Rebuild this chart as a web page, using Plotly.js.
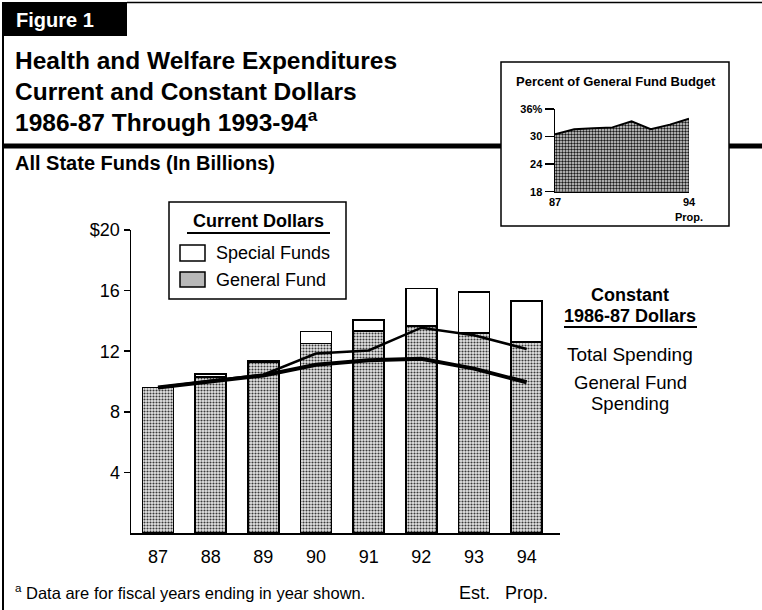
<!DOCTYPE html>
<html>
<head>
<meta charset="utf-8">
<script src="https://cdn.plot.ly/plotly-3.0.1.min.js"></script>
<style>html,body{margin:0;padding:0;background:#fff;}#chart{width:762px;height:610px;}</style>
</head>
<body>
<div id="chart"></div>
<script>
// ---- data ----
const years = ["87","88","89","90","91","92","93","94"];
const tickLabels = ["87","88","89","90","91","92","93","94"];
const subLabels = ["","","","","","","Est.","Prop."];
const generalFund = [9.6, 10.3, 11.3, 12.5, 13.35, 13.65, 13.2, 12.6];
const specialFunds = [0, 0.2, 0.1, 0.8, 0.7, 2.5, 2.7, 2.7];
const constTotal = [9.6, 10.05, 10.45, 11.85, 12.05, 13.55, 13.05, 12.15];
const constGeneral = [9.6, 10.0, 10.4, 11.1, 11.4, 11.5, 10.85, 9.95];
const insetPct = [30.5, 31.6, 31.8, 32.0, 33.3, 31.6, 32.6, 33.9];
const yTickVals = [4, 8, 12, 16, 20];
const yTickText = ["4", "8", "12", "16", "$20"];
const insetTickVals = [18, 24, 30, 36];
const insetTickText = ["18", "24", "30", "36%"];
const insetXTicks = ["87", "94"];
const insetXText = ["87", "94<br>Prop."];

// ---- helpers (pixel -> paper) ----
const W = 762, H = 610;
const px = x => x / W;
const py = y => 1 - y / H;
const FONT = "Liberation Sans, Arial, sans-serif";

const patt = {shape: ".", bgcolor: "#e6e6e6", fgcolor: "#3a3a3a", size: 3, solidity: 0.4, fillmode: "replace"};

const traces = [
  {type: "bar", x: years, y: generalFund, name: "General Fund", xaxis: "x", yaxis: "y",
   marker: {color: "#e6e6e6", pattern: patt, line: {color: "#000", width: 1.5}}, hoverinfo: "skip"},
  {type: "bar", x: years, y: specialFunds, name: "Special Funds", xaxis: "x", yaxis: "y",
   marker: {color: "#fff", line: {color: "#000", width: 1.5}}, hoverinfo: "skip"},
  {type: "scatter", mode: "lines", x: years, y: constTotal, name: "Total Spending",
   line: {color: "#000", width: 2.5}, xaxis: "x", yaxis: "y"},
  {type: "scatter", mode: "lines", x: years, y: constGeneral, name: "General Fund Spending",
   line: {color: "#000", width: 4}, xaxis: "x", yaxis: "y"},
  {type: "scatter", mode: "lines", x: years, y: insetPct, name: "Percent of General Fund Budget",
   fill: "tozeroy", fillcolor: "#bdbdbd",
   fillpattern: {shape: ".", bgcolor: "#dcdcdc", fgcolor: "#1a1a1a", size: 3, solidity: 0.5, fillmode: "replace"},
   line: {color: "#000", width: 2}, xaxis: "x2", yaxis: "y2"}
];

function ann(text, x, y, opts) {
  return Object.assign({text: text, x: px(x), y: py(y), xref: "paper", yref: "paper",
    showarrow: false, xanchor: "left", yanchor: "middle",
    font: {family: FONT, size: 18, color: "#000"}}, opts || {});
}
const bold = (size, color) => ({family: FONT, size: size, color: color || "#000", weight: "bold"});
const reg = size => ({family: FONT, size: size, color: "#000"});

const annotations = [
  ann("Figure 1", 14, 20, {font: bold(20, "#fff")}),
  ann("Health and Welfare Expenditures", 13, 61, {font: bold(24.5)}),
  ann("Current and Constant Dollars", 13, 91, {font: bold(24.5)}),
  ann("1986-87 Through 1993-94<sup>a</sup>", 13, 121, {font: bold(24.5)}),
  ann("All State Funds (In Billions)", 13, 163, {font: bold(20)}),
  ann("Percent of General Fund Budget", 616, 81, {xanchor: "center", font: bold(13)}),
  ann("Current Dollars", 258, 221, {xanchor: "center", font: bold(18)}),
  ann("Special Funds", 214, 253, {font: reg(18)}),
  ann("General Fund", 214, 280, {font: reg(18)}),
  ann("Constant", 630, 295, {xanchor: "center", font: bold(18)}),
  ann("1986-87 Dollars", 630, 316, {xanchor: "center", font: bold(18)}),
  ann("Total Spending", 630, 354, {xanchor: "center", font: reg(19)}),
  ann("General Fund", 630, 382, {xanchor: "center", font: reg(18.5)}),
  ann("Spending", 630, 403, {xanchor: "center", font: reg(18.5)}),
  ann("<sup>a</sup> Data are for fiscal years ending in year shown.", 13, 592, {font: reg(16.5)})
];
years.forEach((yr, i) => {
  if (subLabels[i]) {
    annotations.push({text: subLabels[i], x: i, xref: "x", y: py(593), yref: "paper",
      showarrow: false, xanchor: "center", yanchor: "middle", font: reg(18)});
  }
});

function rect(x0, y0, x1, y1, fill, lw) {
  return {type: "rect", xref: "paper", yref: "paper", x0: px(x0), x1: px(x1), y0: py(y0), y1: py(y1),
    fillcolor: fill, line: {color: "#000", width: lw}, layer: "below"};
}
function line(x0, y0, x1, y1, lw) {
  return {type: "line", xref: "paper", yref: "paper", x0: px(x0), x1: px(x1), y0: py(y0), y1: py(y1),
    line: {color: "#000", width: lw}, layer: "below"};
}
const shapes = [
  rect(3, 2, 127, 36, "#000", 0),
  line(127, 2.5, 762, 2.5, 1.5),
  line(3, 2, 3, 610, 2),
  line(3, 146, 762, 146, 5),
  rect(501, 62, 729, 226, "#fff", 1.5),
  rect(169, 202, 346, 299, "#fff", 1.5),
  line(187, 233, 330, 233, 2),
  rect(180, 245, 205, 261, "#fff", 1.5),
  rect(180, 272, 205, 287, "#b8b8b8", 1.5),
  line(564, 327, 697, 327, 2)
];

const layout = {
  width: W, height: H,
  margin: {l: 0, r: 0, t: 0, b: 0, pad: 0},
  paper_bgcolor: "#fff", plot_bgcolor: "rgba(0,0,0,0)",
  showlegend: false, barmode: "stack", bargap: 0.41,
  font: {family: FONT, color: "#000"},
  xaxis: {type: "category", domain: [px(131), px(560)], range: [-0.513, 7.633],
    showline: true, linecolor: "#000", linewidth: 2, ticks: "", showgrid: false, zeroline: false,
    tickvals: years, ticktext: tickLabels, tickfont: reg(18), ticklabelstandoff: 6, anchor: "y", fixedrange: true},
  yaxis: {domain: [py(533), py(230)], range: [0, 20], showline: true, linecolor: "#000", linewidth: 1.5,
    ticks: "outside", ticklen: 6, tickwidth: 1.5, tickcolor: "#000", showgrid: false, zeroline: false,
    tickvals: yTickVals, ticktext: yTickText, tickfont: reg(18), anchor: "x", fixedrange: true},
  xaxis2: {type: "category", domain: [px(555), px(689)], range: [0, 7], anchor: "y2",
    showline: true, linecolor: "#000", linewidth: 1.5, ticks: "", showgrid: false, zeroline: false,
    tickvals: insetXTicks, ticktext: insetXText, tickfont: bold(11), ticklabelstandoff: 0},
  yaxis2: {domain: [py(191.7), py(109)], range: [18, 36], anchor: "x2",
    showline: true, linecolor: "#000", linewidth: 1.5, ticks: "outside", ticklen: 9, tickwidth: 1.5,
    tickcolor: "#000", showgrid: false, zeroline: false,
    tickvals: insetTickVals, ticktext: insetTickText, tickfont: bold(11)},
  shapes: shapes,
  annotations: annotations
};

Plotly.newPlot("chart", traces, layout, {staticPlot: true, displayModeBar: false});
</script>
</body>
</html>
